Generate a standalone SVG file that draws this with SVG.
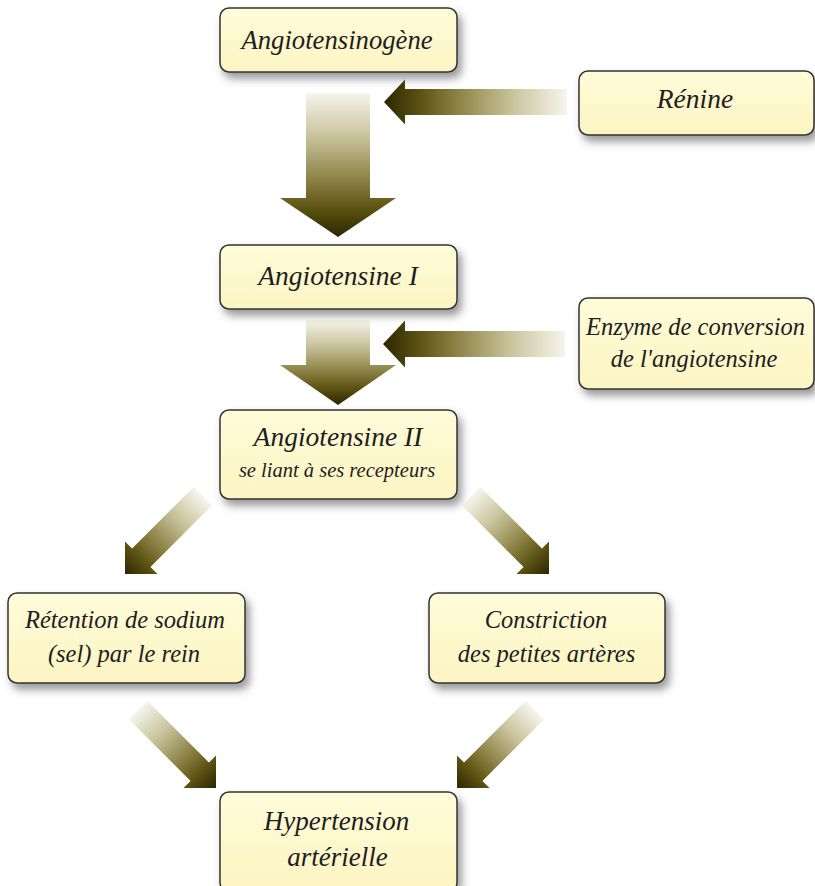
<svg xmlns="http://www.w3.org/2000/svg" width="815" height="886" viewBox="0 0 815 886">
<defs>
<linearGradient id="boxfill" x1="0" y1="0" x2="0" y2="1">
<stop offset="0" stop-color="#fffcd9"/>
<stop offset="1" stop-color="#fcf4c2"/>
</linearGradient>
<linearGradient id="arr" x1="0" y1="0" x2="1" y2="0">
<stop offset="0" stop-color="#f6f5ec"/>
<stop offset="0.3" stop-color="#c9c39c"/>
<stop offset="0.6" stop-color="#8c8245"/>
<stop offset="0.8" stop-color="#5c5312"/>
<stop offset="1" stop-color="#2c2600"/>
</linearGradient>
<filter id="sh" x="-10%" y="-10%" width="125%" height="135%">
<feDropShadow dx="4" dy="6" stdDeviation="4" flood-color="#555" flood-opacity="0.6"/>
</filter>
</defs>
<style>
.box{fill:url(#boxfill);stroke:#333;stroke-width:1.5;filter:url(#sh)}
.t{font-family:"Liberation Serif","Times New Roman",serif;font-style:italic;fill:#1e1e1e;text-anchor:middle}
.a{fill:url(#arr)}
</style>
<g id="connectors">
<path class="a" d="M0,-32H105V-58L144,0L105,58V32H0Z" transform="translate(338,237) rotate(90) translate(-144,0)"/>
<path class="a" d="M0,-32H45V-58L85,0L45,58V32H0Z" transform="translate(338,405) rotate(90) translate(-85,0)"/>
<path class="a" d="M0,-13H162V-22.5L183,0L162,22.5V13H0Z" transform="translate(384,102) rotate(180) translate(-183,0)"/>
<path class="a" d="M0,-13H160V-23.5L182,0L160,23.5V13H0Z" transform="translate(383,344) rotate(180) translate(-182,0)"/>
<path class="a" d="M0,-13H87V-23L110,0L87,23V13H0Z" transform="translate(125,574) rotate(135) translate(-110,0)"/>
<path class="a" d="M0,-13H87V-23L110,0L87,23V13H0Z" transform="translate(549,574) rotate(45) translate(-110,0)"/>
<path class="a" d="M0,-13H87V-23L110,0L87,23V13H0Z" transform="translate(216,788) rotate(45) translate(-110,0)"/>
<path class="a" d="M0,-13H87V-23L110,0L87,23V13H0Z" transform="translate(457,788) rotate(135) translate(-110,0)"/>
</g>
<g id="angiotensinogene">
<rect class="box" x="220" y="8" width="237" height="64" rx="9"/>
<text class="t" x="337" y="49" font-size="26.7">Angiotensinogène</text>
</g>
<g id="renine">
<rect class="box" x="579" y="71" width="235" height="64" rx="9"/>
<text class="t" x="695" y="108" font-size="27.5">Rénine</text>
</g>
<g id="angiotensine1">
<rect class="box" x="220" y="245" width="237" height="64" rx="9"/>
<text class="t" x="338" y="285" font-size="27.5">Angiotensine I</text>
</g>
<g id="enzyme">
<rect class="box" x="579" y="298" width="235" height="91" rx="9"/>
<text class="t" x="695.5" y="335" font-size="24.5">Enzyme de conversion</text>
<text class="t" x="694" y="367" font-size="24.5">de l'angiotensine</text>
</g>
<g id="angiotensine2">
<rect class="box" x="220" y="410" width="237" height="89" rx="9"/>
<text class="t" x="338" y="446" font-size="27.5">Angiotensine II</text>
<text class="t" x="337" y="477" font-size="20.5">se liant à ses recepteurs</text>
</g>
<g id="retention">
<rect class="box" x="8" y="593" width="237" height="90" rx="9"/>
<text class="t" x="125" y="628" font-size="24.5">Rétention de sodium</text>
<text class="t" x="124" y="662" font-size="24.5">(sel) par le rein</text>
</g>
<g id="constriction">
<rect class="box" x="429" y="593" width="236" height="90" rx="9"/>
<text class="t" x="546" y="628" font-size="24.5">Constriction</text>
<text class="t" x="546.5" y="662" font-size="24.5">des petites artères</text>
</g>
<g id="hypertension">
<rect class="box" x="220" y="792" width="237" height="100" rx="9"/>
<text class="t" x="336.5" y="830" font-size="27">Hypertension</text>
<text class="t" x="337.5" y="866" font-size="27">artérielle</text>
</g>
</svg>
